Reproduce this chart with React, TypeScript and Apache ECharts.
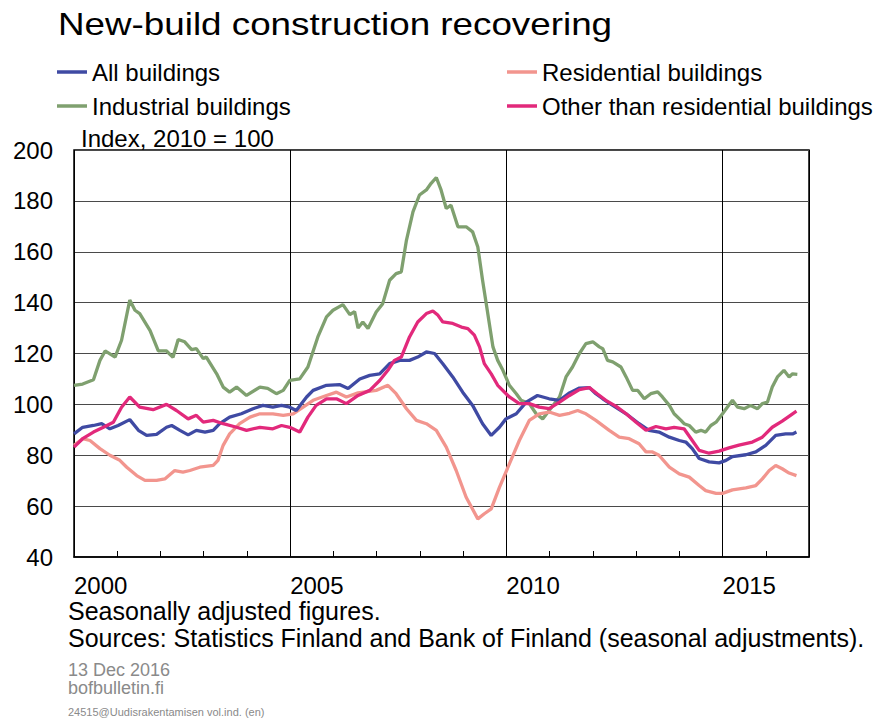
import React, { useEffect, useRef } from "react";
import * as echarts from "echarts";

const titleText = "New-build construction recovering";
const unitText = "Index, 2010 = 100";
const noteLines = [
  "Seasonally adjusted figures.",
  "Sources: Statistics Finland and Bank of Finland (seasonal adjustments).",
];
const metaLines = ["13 Dec 2016", "bofbulletin.fi"];
const codeLine = "24515@Uudisrakentamisen vol.ind. (en)";

const seriesNames = [
  "All buildings",
  "Residential buildings",
  "Industrial buildings",
  "Other than residential buildings",
];
const seriesColors = ["#3f4aa3", "#f2958e", "#7fa06f", "#e2297b"];

const yTicks = { min: 40, max: 200, step: 20 };
const xRange = { min: 2000, max: 2017 };
const labelledYears = [2000, 2005, 2010, 2015];

const allBuildings: [number, number][] = [
  [2000.0, 88.4], [2000.2, 91], [2000.45, 91.7], [2000.64, 92.4], [2000.83, 90.4], [2001.02, 91.7],
  [2001.29, 94], [2001.49, 89.8], [2001.68, 87.8], [2001.91, 88.2], [2002.14, 91], [2002.26, 91.7],
  [2002.45, 89.8], [2002.64, 88], [2002.83, 89.8], [2003.03, 89.1], [2003.22, 89.8], [2003.37, 92.4],
  [2003.6, 95], [2003.87, 96.3], [2004.14, 98.3], [2004.37, 99.6], [2004.6, 98.9], [2004.8, 99.6],
  [2004.99, 98.9], [2005.14, 97.6], [2005.38, 102.9], [2005.53, 105.5], [2005.84, 107.5], [2006.14, 107.8],
  [2006.34, 106.2], [2006.61, 110], [2006.84, 111.4], [2007.07, 112], [2007.3, 116], [2007.53, 117.3],
  [2007.76, 117.3], [2007.95, 118.6], [2008.15, 120.6], [2008.34, 120], [2008.53, 116], [2008.76, 110.8],
  [2008.99, 104.8], [2009.22, 99.6], [2009.45, 92.4], [2009.65, 87.8], [2009.84, 91], [2009.99, 94.3],
  [2010.23, 96.3], [2010.46, 100.9], [2010.72, 103.5], [2010.99, 102.2], [2011.23, 101.6], [2011.46, 104.5],
  [2011.69, 106.4], [2011.92, 106.6], [2012.07, 104.2], [2012.23, 102.2], [2012.46, 99.6], [2012.77, 96.3],
  [2013.07, 92.4], [2013.3, 89.8], [2013.53, 89.1], [2013.77, 87.1], [2014.0, 85.8], [2014.15, 85.2],
  [2014.3, 82.6], [2014.46, 78.7], [2014.69, 77.4], [2014.92, 77], [2015.08, 78], [2015.23, 79.5],
  [2015.54, 80.2], [2015.77, 81.3], [2016.0, 83.9], [2016.23, 87.8], [2016.46, 88.4], [2016.62, 88.4],
  [2016.71, 89.1],
];

const residential: [number, number][] = [
  [2000.0, 83.9], [2000.2, 86.5], [2000.37, 85.8], [2000.6, 82.6], [2000.83, 80], [2001.06, 78],
  [2001.22, 75.3], [2001.45, 72], [2001.64, 70.1], [2001.91, 70.1], [2002.1, 70.7], [2002.33, 74],
  [2002.52, 73.4], [2002.68, 74], [2002.91, 75.3], [2003.22, 76], [2003.33, 78], [2003.45, 83.9],
  [2003.6, 88.4], [2003.83, 92.4], [2004.07, 95], [2004.3, 96.3], [2004.6, 96.3], [2004.84, 95.7],
  [2005.07, 96.3], [2005.3, 98.9], [2005.53, 101.6], [2005.84, 103.5], [2006.07, 104.8], [2006.3, 102.9],
  [2006.57, 104.5], [2006.99, 105.5], [2007.26, 107.5], [2007.45, 104.2], [2007.69, 98.3], [2007.92, 93.7],
  [2008.15, 92.4], [2008.38, 89.8], [2008.61, 83.2], [2008.84, 74], [2009.07, 63.5], [2009.34, 55],
  [2009.49, 57], [2009.65, 58.9], [2009.84, 67.4], [2010.07, 76.6], [2010.3, 85.8], [2010.53, 93.7],
  [2010.76, 96.3], [2010.99, 97], [2011.23, 95.7], [2011.46, 96.5], [2011.65, 97.6], [2011.84, 96.3],
  [2012.07, 93.7], [2012.38, 89.8], [2012.61, 87.1], [2012.84, 86.5], [2013.07, 84.5], [2013.23, 81.3],
  [2013.38, 81.3], [2013.53, 80], [2013.77, 75.3], [2014.0, 72.7], [2014.23, 71.4], [2014.46, 68.1],
  [2014.61, 66.1], [2014.85, 65], [2015.0, 65], [2015.23, 66.4], [2015.54, 67.2], [2015.77, 68.1],
  [2015.92, 70.7], [2016.08, 74], [2016.23, 76], [2016.38, 74.7], [2016.54, 73], [2016.71, 72],
];

const industrial: [number, number][] = [
  [2000.0, 107.5], [2000.2, 108], [2000.45, 109.7], [2000.6, 117.3], [2000.72, 121], [2000.95, 118.6],
  [2001.1, 125.2], [2001.29, 141], [2001.41, 137], [2001.52, 135.7], [2001.76, 129], [2001.95, 121],
  [2002.14, 121], [2002.29, 118.5], [2002.41, 125.5], [2002.56, 124.6], [2002.72, 121.5], [2002.83, 121.9],
  [2002.99, 118], [2003.06, 118.6], [2003.3, 112], [2003.45, 106.8], [2003.6, 104.8], [2003.76, 106.8],
  [2003.99, 103.5], [2004.3, 106.8], [2004.48, 106.3], [2004.68, 104.2], [2004.84, 105.5], [2004.99, 109.4],
  [2005.22, 110], [2005.41, 114.7], [2005.64, 126.5], [2005.84, 134.4], [2005.99, 137], [2006.22, 139.2],
  [2006.38, 135.3], [2006.49, 136.5], [2006.57, 130], [2006.68, 132.4], [2006.8, 129.8], [2006.99, 136.3],
  [2007.14, 139.6], [2007.3, 148.8], [2007.45, 151.4], [2007.57, 152.1], [2007.69, 164.6], [2007.84, 175.7],
  [2007.99, 182.3], [2008.15, 184.3], [2008.26, 186.9], [2008.38, 189.2], [2008.49, 184.3], [2008.61, 177],
  [2008.72, 178.3], [2008.88, 169.8], [2009.07, 169.8], [2009.22, 167.8], [2009.34, 161.9], [2009.45, 148.8],
  [2009.57, 135.7], [2009.69, 122.6], [2009.8, 117.3], [2009.92, 113.4], [2010.07, 107.5], [2010.23, 104.2],
  [2010.34, 101.6], [2010.53, 100.3], [2010.69, 96.3], [2010.84, 94.3], [2010.99, 97.6], [2011.23, 102.9],
  [2011.38, 110.8], [2011.53, 114.7], [2011.69, 120], [2011.84, 123.9], [2012.0, 124.6], [2012.15, 122.6],
  [2012.23, 121.9], [2012.34, 117.3], [2012.46, 116.7], [2012.65, 114.7], [2012.77, 110.8], [2012.92, 105.5],
  [2013.04, 105.5], [2013.19, 102.2], [2013.34, 104.2], [2013.5, 104.9], [2013.61, 102.9], [2013.77, 99.6],
  [2013.88, 96.3], [2014.04, 93.7], [2014.11, 92.4], [2014.23, 91.7], [2014.38, 89.1], [2014.5, 89.8],
  [2014.61, 89.1], [2014.73, 91.7], [2014.85, 93], [2015.0, 96.3], [2015.11, 98.9], [2015.23, 101.6],
  [2015.35, 98.9], [2015.5, 98.3], [2015.65, 99.6], [2015.81, 98.3], [2015.92, 100.3], [2016.04, 100.9],
  [2016.15, 106.8], [2016.27, 110.8], [2016.42, 113.4], [2016.54, 110.8], [2016.62, 112], [2016.73, 111.8],
];

const otherThanResidential: [number, number][] = [
  [2000.0, 83.2], [2000.2, 86.5], [2000.45, 89.1], [2000.68, 91], [2000.91, 93], [2001.1, 98.9],
  [2001.29, 102.9], [2001.52, 98.9], [2001.83, 97.9], [2002.14, 100], [2002.37, 97.6], [2002.64, 94.3],
  [2002.83, 95.7], [2002.99, 93], [2003.22, 93.7], [2003.45, 92.4], [2003.76, 91], [2003.99, 89.8],
  [2004.3, 91], [2004.6, 90.4], [2004.8, 91.7], [2004.99, 91], [2005.22, 89.1], [2005.41, 95],
  [2005.6, 99.6], [2005.84, 102.2], [2006.07, 102.2], [2006.3, 100.3], [2006.57, 103.5], [2006.84, 105.5],
  [2007.07, 109.4], [2007.26, 113.4], [2007.41, 117.3], [2007.57, 118.6], [2007.76, 126.5], [2007.95, 132.4],
  [2008.15, 135.7], [2008.3, 136.7], [2008.42, 135], [2008.53, 132.4], [2008.76, 131.8], [2008.96, 130.4],
  [2009.11, 129.8], [2009.26, 127.2], [2009.38, 122.6], [2009.49, 116], [2009.65, 112], [2009.8, 107.5],
  [2010.07, 102.9], [2010.3, 100.3], [2010.53, 100.3], [2010.76, 98.9], [2010.99, 98.3], [2011.23, 100.9],
  [2011.46, 103.5], [2011.69, 105.8], [2011.92, 106.6], [2012.1, 104.2], [2012.3, 101.6], [2012.54, 99.2],
  [2012.77, 96.3], [2013.0, 93], [2013.23, 89.8], [2013.46, 91.3], [2013.69, 90.4], [2013.88, 91],
  [2014.11, 90.4], [2014.3, 85.8], [2014.46, 81.9], [2014.69, 80.8], [2014.92, 81.6], [2015.15, 82.9],
  [2015.38, 84], [2015.69, 85.2], [2015.92, 87.1], [2016.15, 91], [2016.38, 93.4], [2016.62, 96.3],
  [2016.71, 97.3],
];

const seriesData = [allBuildings, residential, industrial, otherThanResidential];
// draw order: industrial, residential, all, other on top
const drawOrder = [2, 1, 0, 3];

const FONT = "'Liberation Sans', Arial, Helvetica, sans-serif";

export default function App() {
  const ref = useRef<HTMLDivElement>(null);

  useEffect(() => {
    if (!ref.current) return;
    const chart = echarts.init(ref.current, undefined, { renderer: "svg" });

    const legendPos = [
      { left: 57, top: 60 },
      { left: 507, top: 60 },
      { left: 57, top: 94 },
      { left: 507, top: 94 },
    ];

    const option: any = {
      animation: false,
      backgroundColor: "#ffffff",
      textStyle: { fontFamily: FONT },
      legend: seriesNames.map((name, i) => ({
        data: [name],
        left: legendPos[i].left,
        top: legendPos[i].top,
        padding: 0,
        icon: "rect",
        itemWidth: 30,
        itemHeight: 3.5,
        itemGap: 0,
        selectedMode: false,
        textStyle: { fontFamily: FONT, fontSize: 24, color: "#000" },
      })),
      grid: {
        left: 74,
        right: 78,
        top: 150,
        bottom: 162,
        show: true,
        borderColor: "#000",
        borderWidth: 1.5,
        backgroundColor: "transparent",
        containLabel: false,
      },
      xAxis: [
        {
          type: "value",
          min: xRange.min,
          max: xRange.max,
          interval: 1,
          axisLine: { show: true, lineStyle: { color: "#000", width: 1.5 } },
          axisTick: { show: true, inside: true, length: 6, lineStyle: { color: "#000", width: 1 } },
          splitLine: { show: false },
          axisLabel: {
            show: true,
            align: "left",
            margin: 16,
            fontSize: 24,
            color: "#000",
            fontFamily: FONT,
            formatter: (v: number) => (labelledYears.includes(Math.round(v)) ? String(Math.round(v)) : ""),
          },
        },
        {
          type: "value",
          min: xRange.min,
          max: xRange.max,
          interval: 5,
          position: "bottom",
          axisLine: { show: false },
          axisTick: { show: false },
          axisLabel: { show: false },
          splitLine: { show: true, lineStyle: { color: "#000", width: 1 } },
        },
      ],
      yAxis: {
        type: "value",
        min: yTicks.min,
        max: yTicks.max,
        interval: yTicks.step,
        axisLine: { show: false },
        axisTick: { show: false },
        splitLine: { show: true, lineStyle: { color: "#4a4a4a", width: 1.2 } },
        axisLabel: { fontSize: 24, color: "#000", margin: 21, fontFamily: FONT },
      },
      series: drawOrder.map((i) => ({
        name: seriesNames[i],
        type: "line",
        xAxisIndex: 0,
        data: seriesData[i],
        symbol: "none",
        smooth: false,
        color: seriesColors[i],
        lineStyle: { color: seriesColors[i], width: 3.3 },
        z: 3,
      })),
      graphic: [
        {
          type: "text",
          left: 58,
          top: 8,
          scaleX: 1.15,
          style: { text: titleText, fontSize: 32, fill: "#000", fontFamily: FONT },
        },
        {
          type: "text",
          x: 81,
          y: 138,
          style: { text: unitText, fontSize: 24, fill: "#000", fontFamily: FONT, verticalAlign: "middle" },
        },
        {
          type: "text",
          x: 68,
          y: 611,
          style: { text: noteLines[0], fontSize: 25, fill: "#000", fontFamily: FONT, verticalAlign: "middle" },
        },
        {
          type: "text",
          x: 68,
          y: 638,
          style: { text: noteLines[1], fontSize: 25, fill: "#000", fontFamily: FONT, verticalAlign: "middle" },
        },
        {
          type: "text",
          x: 68,
          y: 670,
          style: { text: metaLines[0], fontSize: 18, fill: "#8a8a8a", fontFamily: FONT, verticalAlign: "middle" },
        },
        {
          type: "text",
          x: 68,
          y: 688,
          style: { text: metaLines[1], fontSize: 18, fill: "#8a8a8a", fontFamily: FONT, verticalAlign: "middle" },
        },
        {
          type: "text",
          x: 68,
          y: 712,
          style: { text: codeLine, fontSize: 11, fill: "#8a8a8a", fontFamily: FONT, verticalAlign: "middle" },
        },
      ],
    };

    chart.setOption(option);
    return () => chart.dispose();
  }, []);

  return (
    <div
      ref={ref}
      style={{ position: "fixed", left: 0, top: 0, width: 887, height: 719, background: "#fff" }}
    />
  );
}
